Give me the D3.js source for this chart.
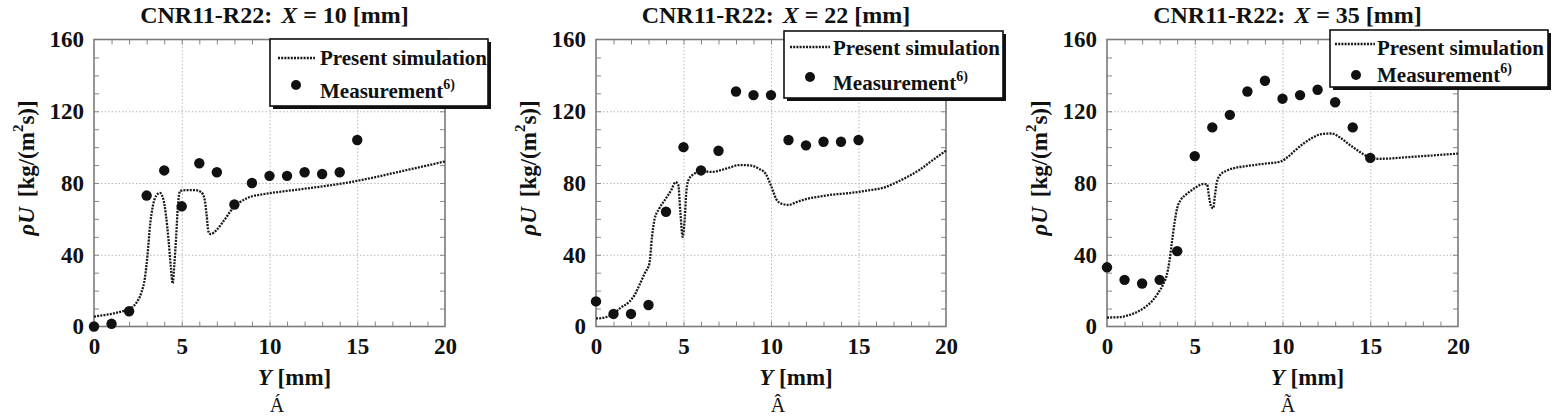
<!DOCTYPE html>
<html>
<head>
<meta charset="utf-8">
<script src="https://cdn.jsdelivr.net/npm/d3@7"></script>
<style>
  body { margin: 0; background: #fff; }
</style>
</head>
<body>
<svg id="chart" width="1558" height="417" font-family="Liberation Serif, Times New Roman, Times, DejaVu Serif, serif" font-weight="bold"></svg>
<script>
// ---- data ----
var titles = ["10", "22", "35"];
var bottomMarks = ["\u00C1", "\u00C2", "\u00C3"];
var xTicks = [0, 5, 10, 15, 20];
var yTicks = [0, 40, 80, 120, 160];

var measY = [0, 1, 2, 3, 4, 5, 6, 7, 8, 9, 10, 11, 12, 13, 14, 15];
var meas1 = [0, 1.5, 8.5, 73, 87, 67, 91, 86, 68, 80, 84, 84, 86, 85, 86, 104];
var meas2 = [14, 7, 7, 12, 64, 100, 87, 98, 131, 129, 129, 104, 101, 103, 103, 104];
var meas3 = [33, 26, 24, 26, 42, 95, 111, 118, 131, 137, 127, 129, 132, 125, 111, 94];

var sim1Y = [0, 0.5, 1, 1.5, 2, 2.4, 2.7, 2.9, 3.05, 3.2, 3.35, 3.55, 3.75, 3.95, 4.1, 4.25, 4.38, 4.48, 4.58, 4.68, 4.78, 4.9, 5.2, 5.8, 6.1, 6.3, 6.42, 6.52, 6.65, 7, 7.4, 7.8, 8.2, 8.6, 9, 9.5, 10, 11, 12, 13, 14, 15, 16, 17, 18, 19, 20];
var sim1V = [5.5, 6.3, 7, 8.2, 9.8, 13, 19, 27, 40, 57, 67, 73, 74.5, 71, 62, 48, 33, 24, 35, 50, 67, 75.5, 76, 76, 75, 71, 62, 53, 51.5, 54, 59, 64.5, 68.5, 71, 72.6, 73.5, 74.3, 75.6, 76.8, 78.1, 79.5, 81.2, 83.2, 85.4, 87.6, 89.8, 92];

var sim2Y = [0, 0.3, 0.7, 1, 1.4, 1.9, 2.2, 2.5, 2.8, 3.05, 3.2, 3.35, 3.6, 4, 4.3, 4.55, 4.7, 4.82, 4.95, 5.07, 5.17, 5.3, 5.6, 6, 6.6, 7, 7.6, 8.2, 8.8, 9.3, 9.7, 10, 10.3, 10.6, 11, 11.5, 12, 12.8, 13.5, 14.5, 15.5, 16.5, 17.2, 17.8, 18.5, 19.2, 20];
var sim2V = [4.5, 4.7, 5.6, 7, 10.4, 13.8, 17.5, 23.5, 30, 35, 50, 60, 65.5, 71.5, 76, 80.5, 79, 64, 50, 60, 76, 82, 85, 86.5, 86.2, 86.8, 88.5, 90, 89.8, 88, 85, 78.5, 71, 68.5, 67.8, 69.5, 71, 72.5, 73.5, 74.4, 75.8, 77.6, 80.5, 83.5, 87.4, 92.5, 98];

var sim3Y = [0, 0.5, 1, 1.4, 1.8, 2.2, 2.6, 2.9, 3.2, 3.4, 3.55, 3.7, 3.85, 4, 4.2, 4.5, 4.8, 5.1, 5.5, 5.7, 5.82, 5.95, 6.05, 6.15, 6.25, 6.45, 6.8, 7.2, 8, 9, 9.9, 10.3, 10.7, 11.2, 11.7, 12.2, 12.8, 13.3, 13.8, 14.3, 14.7, 15, 15.5, 16, 17, 18, 19, 20];
var sim3V = [5, 5.1, 5.7, 6.8, 8.5, 11, 14.5, 18.5, 23.5, 28.5, 36, 47, 58, 66, 70.5, 73.5, 75.8, 77.8, 79.5, 79.2, 72, 66.5, 66, 73, 80, 84.5, 86.8, 88.2, 89.5, 90.8, 92, 94.5, 98, 102, 105.2, 107.2, 107.6, 105.2, 101.5, 98, 95.5, 93.8, 93.5, 93.6, 94.3, 95, 95.7, 96.4];

// ---- layout ----
var plotLeft = [94, 596, 1107];
var plotWidth = [351, 350, 351];
var plotTop = 39.5, plotBottom = 326.5;
var plotHeight = plotBottom - plotTop;

var legends = [
    {x: 270, y: 39, w: 218, h: 67, lx1: 278, lx2: 315, ly: 58, tx: 320, b1: 65, dx: 296, dy: 85, b2: 98},
    {x: 784, y: 31, w: 219, h: 67, lx1: 790, lx2: 830, ly: 47, tx: 833, b1: 55, dx: 810, dy: 77, b2: 90},
    {x: 1330, y: 30, w: 218, h: 57, lx1: 1335, lx2: 1375, ly: 44, tx: 1377, b1: 55, dx: 1356, dy: 75, b2: 82}
];

var svg = d3.select("#chart");

var simSeries = [[sim1Y, sim1V], [sim2Y, sim2V], [sim3Y, sim3V]];
var measSeries = [meas1, meas2, meas3];

for (var k = 0; k < 3; k++) {
    drawPanel(k);
}

function styleAxis(sel) {
    sel.attr("font-family", null).attr("font-size", null);
    sel.select(".domain").remove();
}

function drawPanel(k) {
    var left = plotLeft[k];
    var width = plotWidth[k];

    var x = d3.scaleLinear().domain([0, 20]).range([0, width]);
    var y = d3.scaleLinear().domain([0, 160]).range([plotHeight, 0]);

    var g = svg.append("g")
        .attr("transform", "translate(" + left + "," + plotTop + ")");

    // dotted grid at the major ticks
    g.append("g")
        .call(d3.axisBottom(x).tickValues([5, 10, 15]).tickSize(plotHeight).tickFormat(""))
        .call(styleAxis)
        .selectAll("line")
        .attr("stroke", "#b8b8b8")
        .attr("stroke-width", 1)
        .attr("stroke-dasharray", "1.5,2");

    g.append("g")
        .call(d3.axisRight(y).tickValues([40, 80, 120]).tickSize(width).tickFormat(""))
        .call(styleAxis)
        .selectAll("line")
        .attr("stroke", "#b8b8b8")
        .attr("stroke-width", 1)
        .attr("stroke-dasharray", "1.5,2");

    // inward minor ticks on all four sides
    var xMinor = d3.range(1, 20);
    var yMinor = d3.range(10, 160, 10);

    g.append("g").attr("transform", "translate(0," + plotHeight + ")")
        .call(d3.axisTop(x).tickValues(xMinor).tickSize(5).tickFormat(""))
        .call(styleAxis);
    g.append("g")
        .call(d3.axisBottom(x).tickValues(xMinor).tickSize(5).tickFormat(""))
        .call(styleAxis);
    g.append("g")
        .call(d3.axisRight(y).tickValues(yMinor).tickSize(5).tickFormat(""))
        .call(styleAxis);
    g.append("g").attr("transform", "translate(" + width + ",0)")
        .call(d3.axisLeft(y).tickValues(yMinor).tickSize(5).tickFormat(""))
        .call(styleAxis);

    g.selectAll("g.tick line").filter(function() {
        return d3.select(this).attr("stroke-dasharray") == null;
    }).attr("stroke", "#888").attr("stroke-width", 1);

    // frame
    g.append("rect")
        .attr("width", width)
        .attr("height", plotHeight)
        .attr("fill", "none")
        .attr("stroke", "#7a7a7a")
        .attr("stroke-width", 1.6);

    // tick labels
    g.append("g").attr("transform", "translate(0," + plotHeight + ")")
        .call(d3.axisBottom(x).tickValues(xTicks).tickSize(0).tickPadding(11).tickFormat(d3.format("d")))
        .call(styleAxis)
        .selectAll("text")
        .attr("fill", "#111")
        .style("font-size", "23px");

    g.append("g")
        .call(d3.axisLeft(y).tickValues(yTicks).tickSize(0).tickPadding(10).tickFormat(d3.format("d")))
        .call(styleAxis)
        .selectAll("text")
        .attr("fill", "#111")
        .style("font-size", "23px");

    // simulation curve
    var sy = simSeries[k][0], sv = simSeries[k][1];
    var line = d3.line()
        .x(function(d, i) { return x(sy[i]); })
        .y(function(d, i) { return y(sv[i]); })
        .curve(d3.curveMonotoneX);

    g.append("path")
        .datum(sy)
        .attr("d", line)
        .attr("fill", "none")
        .attr("stroke", "#1a1a1a")
        .attr("stroke-width", 2.3)
        .attr("stroke-dasharray", "2,1.2");

    // measurement points
    var mv = measSeries[k];
    g.selectAll(".meas")
        .data(measY)
        .enter()
        .append("circle")
        .classed("meas", true)
        .attr("cx", function(d) { return x(d); })
        .attr("cy", function(d, i) { return y(mv[i]); })
        .attr("r", 5.2)
        .attr("fill", "#111");

    // title
    var cx = left + width / 2;
    var title = svg.append("text")
        .attr("x", cx + 5)
        .attr("y", 23)
        .attr("text-anchor", "middle")
        .attr("fill", "#111")
        .style("font-size", "24px");
    title.append("tspan").text("CNR11-R22:");
    title.append("tspan").attr("dx", 9).style("font-style", "italic").text("X");
    title.append("tspan").text(" = " + titles[k] + " [mm]");

    // x label
    var xl = svg.append("text")
        .attr("x", cx + 25)
        .attr("y", 385)
        .attr("text-anchor", "middle")
        .attr("fill", "#111")
        .style("font-size", "23px");
    xl.append("tspan").style("font-style", "italic").text("Y");
    xl.append("tspan").text(" [mm]");

    // y label
    var yl = svg.append("text")
        .attr("transform", "translate(" + (left - 68) + ",168) rotate(-90)")
        .attr("text-anchor", "middle")
        .attr("dominant-baseline", "central")
        .attr("fill", "#111")
        .style("font-size", "23px");
    yl.append("tspan").style("font-style", "italic").text("\u03C1U");
    yl.append("tspan").attr("dx", 10).text("[kg/(m");
    yl.append("tspan").attr("baseline-shift", "super").style("font-size", "15px").text("2");
    yl.append("tspan").text("s)]");

    // odd glyph under each panel
    svg.append("text")
        .attr("x", [277, 778, 1288][k])
        .attr("y", 412)
        .attr("text-anchor", "middle")
        .attr("fill", "#111")
        .style("font-size", "20px")
        .style("font-weight", "normal")
        .text(bottomMarks[k]);

    drawLegend(legends[k]);
}

function drawLegend(L) {
    var lg = svg.append("g");
    lg.append("rect")
        .attr("x", L.x + 3).attr("y", L.y + 3)
        .attr("width", L.w).attr("height", L.h)
        .attr("fill", "#111");
    lg.append("rect")
        .attr("x", L.x).attr("y", L.y)
        .attr("width", L.w).attr("height", L.h)
        .attr("fill", "#fff")
        .attr("stroke", "#111")
        .attr("stroke-width", 1.6);
    lg.append("line")
        .attr("x1", L.lx1).attr("x2", L.lx2)
        .attr("y1", L.ly).attr("y2", L.ly)
        .attr("stroke", "#1a1a1a")
        .attr("stroke-width", 2.3)
        .attr("stroke-dasharray", "2,1.2");
    lg.append("text")
        .attr("x", L.tx).attr("y", L.b1)
        .attr("fill", "#111")
        .style("font-size", "21px")
        .text("Present simulation");
    lg.append("circle")
        .attr("cx", L.dx).attr("cy", L.dy)
        .attr("r", 5)
        .attr("fill", "#111");
    var t = lg.append("text")
        .attr("x", L.tx).attr("y", L.b2)
        .attr("fill", "#111")
        .style("font-size", "21px");
    t.append("tspan").text("Measurement");
    t.append("tspan").attr("dy", -9).style("font-size", "14px").text("6)");
}
</script>
</body>
</html>
